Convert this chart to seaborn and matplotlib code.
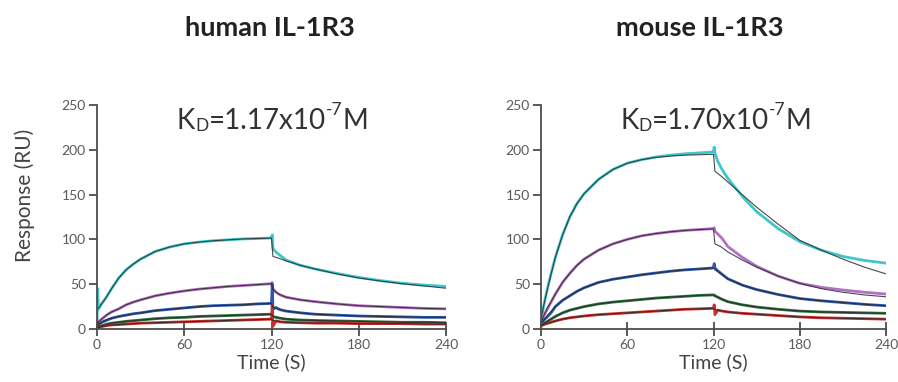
import pandas as pd
import matplotlib
matplotlib.use("Agg")
import matplotlib.pyplot as plt
import seaborn as sns

# time grid of the recorded traces (s), spikes at injection start / stop
T = [0, 0.5, 1, 2, 4, 7, 10, 15, 20, 25, 30, 40, 50, 60, 70, 80, 90, 100, 110, 119,
     120, 120.5, 121, 123, 126, 130, 140, 150, 165, 180, 195, 210, 225, 240]
# time grid of the fitted (1:1 binding) curves
T_FIT = [0, 1, 2, 3, 5, 7, 10, 15, 20, 25, 30, 40, 50, 60, 70, 80, 90, 100, 110, 120,
         121, 125, 130, 140, 150, 165, 180, 195, 210, 225, 240]

# human IL-1R3, measured response (RU)
human_cyan = [5, 45, 22, 25, 30, 37, 45, 57, 66, 72.5, 78, 86.5, 91.5, 95, 97, 98.5, 99.5, 100.5, 101, 101.5,
              102, 105, 90, 86, 82, 77, 71, 67, 62, 57.5, 54, 51, 49, 47.5]
human_purple = [3, 8, 9, 9, 12, 16, 19, 22.5, 27, 30, 32.5, 37, 40, 42.5, 44.5, 46, 47.5, 48.5, 49.5, 50.5,
                51, 52, 45, 41, 38, 35.5, 32.5, 30.5, 28, 26, 25, 24, 23, 22.5]
human_blue = [2, 5, 6, 6, 8, 10, 12, 14, 15.5, 17, 18, 20.5, 22, 23.5, 25, 26, 26.5, 27, 28, 28.5,
              29, 50, 22, 24, 21.5, 20, 18, 16.5, 15.5, 14.5, 14, 13.5, 13, 13]
human_green = [1, 2, 3, 3, 4, 5.5, 6.5, 7.5, 8.5, 9.3, 10, 11.5, 12.5, 13, 14, 14.5, 15, 15.5, 16, 16.5,
               16.5, 17, 14, 13, 12, 11, 10, 9.5, 9, 8.5, 8, 7.5, 7.5, 7]
human_red = [0, 8, 2, 2.5, 3, 4, 4.5, 5, 5.5, 6, 6.5, 7, 7.5, 8, 8.5, 9, 9.5, 10, 10.5, 11,
             11, 27, 3, 9, 8, 7.5, 7, 6.5, 6.5, 6, 6, 6, 5.5, 5.5]

# human IL-1R3, fitted curves
human_cyan_fit = [22, 23.5, 25, 28, 32, 37, 45, 57, 66, 72.5, 78, 86.5, 91.5, 95, 97, 98.5, 99.5, 100.5, 101, 101.5,
                  81, 79, 76, 71, 67, 61.5, 57, 53.5, 50.5, 48, 45.5]
human_purple_fit = [5, 7, 9, 11, 13.5, 16, 19, 22.5, 27, 30, 32.5, 37, 40, 42.5, 44.5, 46, 47.5, 48.5, 49.5, 50.5,
                    44, 39, 35.5, 32.5, 30.5, 28, 26, 25, 24, 23, 22.5]
human_blue_fit = [3, 4.5, 6, 7, 9, 10.5, 12, 14, 15.5, 17, 18, 20.5, 22, 23.5, 25, 26, 26.5, 27, 28, 28.5,
                  24, 22, 20, 18, 16.5, 15.5, 14.5, 14, 13.5, 13, 13]
human_green_fit = [2, 2.5, 3, 3.5, 4.5, 5.5, 6.5, 7.5, 8.5, 9.3, 10, 11.5, 12.5, 13, 14, 14.5, 15, 15.5, 16, 16.5,
                   14, 12.5, 11, 10, 9.5, 9, 8.5, 8, 7.5, 7.5, 7]
human_red_fit = [1, 1.5, 2, 2.5, 3, 3.8, 4.5, 5, 5.5, 6, 6.5, 7, 7.5, 8, 8.5, 9, 9.5, 10, 10.5, 11,
                 9.5, 8.5, 7.5, 7, 6.5, 6.5, 6, 6, 6, 5.5, 5.5]

# mouse IL-1R3, measured response (RU)
mouse_cyan = [10, 14, 18, 27, 42, 62, 80, 105, 125, 140, 151, 167, 178, 185, 189, 192, 194, 195.5, 196.5, 197.5,
              198, 203, 196, 187, 178, 168, 148, 131, 112, 97.5, 88, 81, 76.5, 73.5]
mouse_purple = [8, 10, 12, 15, 21, 30, 39, 52, 62, 71, 78, 88, 95, 100, 104, 106.5, 108.5, 110, 111, 112,
                112, 113, 109, 106, 101, 92, 80, 70, 59, 51, 46.5, 43.5, 41, 39]
mouse_blue = [6, 7, 8, 10, 13, 18, 25, 32, 37, 42, 46, 52, 55.5, 58, 60.5, 62.5, 64.5, 66, 67, 68,
              69, 73, 68, 65, 61, 56, 49, 44, 38.5, 34, 31.5, 29.5, 27.5, 26]
mouse_green = [4, 4.5, 5, 6, 8, 11, 14, 18, 21, 23, 25, 28, 30, 31.5, 33, 34.5, 35.5, 36.5, 37.5, 38,
               38, 38, 37, 35.5, 33, 30.5, 27, 24.5, 22, 20, 19, 18.5, 18, 17.5]
mouse_red = [3, 4, 4.5, 5, 6, 7.5, 9, 11, 12.5, 13.5, 14.5, 16, 17, 18, 19, 20, 21, 22, 22.5, 23,
             23, 27, 16, 21, 20, 19, 17.5, 16.5, 15, 13.5, 12.5, 12, 11.5, 11]

# mouse IL-1R3, fitted curves
mouse_cyan_fit = [12, 19, 27, 34, 48, 61, 80, 105, 125, 140, 151, 167, 178, 185, 189, 191.5, 193, 194, 194.5, 195,
                  176, 171, 164, 150, 136, 117, 99, 88, 78, 69, 61.5]
mouse_purple_fit = [8, 11.5, 15, 18.5, 25, 30.5, 39, 52, 62, 71, 78, 88, 95, 100, 104, 106.5, 108.5, 110, 111, 111.5,
                    95, 92, 86, 77, 69, 59, 51, 45, 41, 38, 36]
mouse_blue_fit = [6, 8, 10, 12, 16, 19.5, 25, 32, 37, 42, 46, 52, 55.5, 58, 60.5, 62.5, 64.5, 66, 67, 68,
                  66, 62, 56, 49, 44, 38.5, 34, 31.5, 29.5, 27.5, 26]
mouse_green_fit = [4, 5, 6, 7, 9, 11, 14, 18, 21, 23, 25, 28, 30, 31.5, 33, 34.5, 35.5, 36.5, 37.5, 38,
                   37, 34, 30.5, 27, 24.5, 22, 20, 19, 18.5, 18, 17.5]
mouse_red_fit = [3, 4, 5, 5.7, 6.5, 7.5, 9, 11, 12.5, 13.5, 14.5, 16, 17, 18, 19, 20, 21, 22, 22.5, 23,
                 22, 20.5, 19, 17.5, 16.5, 15, 13.5, 12.5, 12, 11.5, 11]

X_TICKS = [0, 60, 120, 180, 240]
Y_TICKS = [0, 50, 100, 150, 200, 250]

COLORS = {"cyan": "#3ec6cb", "purple": "#b36fc3", "blue": "#2c58b0",
          "green": "#2f6f3f", "red": "#cf2c2c"}
AXIS_COLOR = "#4d4d4d"
TEXT_COLOR = "#444444"


def long_frame(time, series):
    parts = []
    for name, vals in series.items():
        assert len(vals) == len(time), name
        parts.append(pd.DataFrame({"time": time, "response": vals, "curve": name}))
    return pd.concat(parts, ignore_index=True)


def kd_label(ax, x0, y0, value):
    # K with a small D, then the value with a raised exponent
    k = ax.text(x0, y0, "K", fontsize=20, color="#333333", ha="left", va="baseline")
    d = ax.annotate("D", xy=(1, 0), xycoords=k, fontsize=12.5, color="#333333",
                    ha="left", va="bottom")
    num = ax.annotate(f"={value}x10", xy=(1, 0), xycoords=(d, k), fontsize=20,
                      color="#333333", ha="left", va="bottom")
    exp = ax.annotate("-7", xy=(1, 0.62), xycoords=num, fontsize=12.5,
                      color="#333333", ha="left", va="bottom")
    ax.annotate("M", xy=(1, 0), xycoords=(exp, k), fontsize=20,
                color="#333333", ha="left", va="bottom")


def draw_panel(ax, data, fits, kd_value):
    sns.lineplot(data=data, x="time", y="response", hue="curve", palette=COLORS,
                 estimator=None, sort=False, legend=False, lw=2.0, ax=ax)
    sns.lineplot(data=fits, x="time", y="response", units="curve", color="#2a2a2a",
                 estimator=None, sort=False, legend=False, lw=0.8, alpha=0.85, ax=ax)
    ax.set_xlim(0, 240)
    ax.set_ylim(0, 250)
    ax.set_xticks(X_TICKS)
    ax.set_yticks(Y_TICKS)
    sns.despine(ax=ax)
    for side in ["left", "bottom"]:
        ax.spines[side].set_color(AXIS_COLOR)
        ax.spines[side].set_linewidth(1.3)
    ax.tick_params(axis="x", direction="inout", length=10, width=1.3, color=AXIS_COLOR,
                   labelcolor="#5a5a5a", labelsize=10, pad=2)
    ax.tick_params(axis="y", direction="out", length=6, width=1.3, color=AXIS_COLOR,
                   labelcolor="#5a5a5a", labelsize=10, pad=2)
    ax.set_xlabel("Time (S)", fontsize=14, color=TEXT_COLOR, labelpad=2)
    ax.set_ylabel("")
    kd_label(ax, 55, 223, kd_value)


sns.set_style("ticks")
plt.rcParams["font.family"] = ["Lato", "DejaVu Sans"]

human_data = long_frame(T, {"cyan": human_cyan, "purple": human_purple, "blue": human_blue,
                            "green": human_green, "red": human_red})
human_fits = long_frame(T_FIT, {"cyan": human_cyan_fit, "purple": human_purple_fit,
                                "blue": human_blue_fit, "green": human_green_fit, "red": human_red_fit})
mouse_data = long_frame(T, {"cyan": mouse_cyan, "purple": mouse_purple, "blue": mouse_blue,
                            "green": mouse_green, "red": mouse_red})
mouse_fits = long_frame(T_FIT, {"cyan": mouse_cyan_fit, "purple": mouse_purple_fit,
                                "blue": mouse_blue_fit, "green": mouse_green_fit, "red": mouse_red_fit})

W, H = 898, 382
fig = plt.figure(figsize=(W / 100, H / 100), dpi=100)
ax_h = fig.add_axes([97 / W, 1 - 329 / H, 349 / W, 224 / H])
ax_m = fig.add_axes([541 / W, 1 - 329 / H, 345 / W, 224 / H])

draw_panel(ax_h, human_data, human_fits, "1.17")
draw_panel(ax_m, mouse_data, mouse_fits, "1.70")

fig.text(270 / W, 1 - 28 / H, "human IL-1R3", ha="center", va="center",
         fontsize=19.5, fontweight="bold", color="#222222")
fig.text(700 / W, 1 - 28 / H, "mouse IL-1R3", ha="center", va="center",
         fontsize=19.5, fontweight="bold", color="#222222")
fig.text(25 / W, 1 - 195 / H, "Response (RU)", ha="center", va="center", rotation=90,
         fontsize=15, color=TEXT_COLOR)

fig.savefig("out.png", dpi=100)
